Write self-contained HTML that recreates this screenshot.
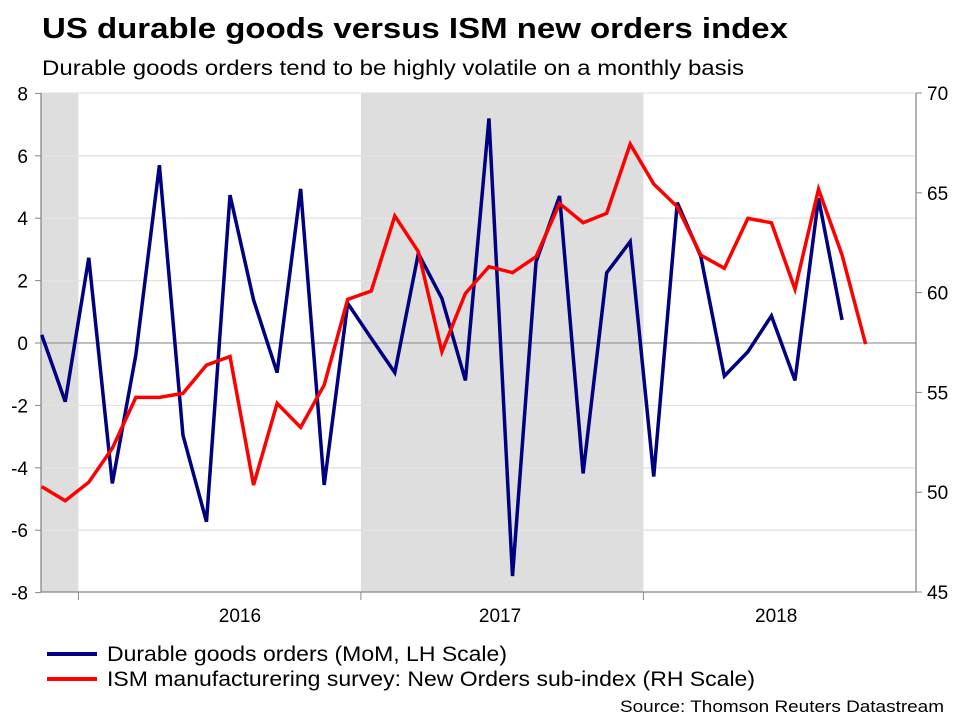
<!DOCTYPE html>
<html><head><meta charset="utf-8"><style>
body{margin:0;background:#fff;}
svg{display:block;font-family:"Liberation Sans",sans-serif;}
</style></head><body>
<svg id="chart" width="960" height="720" viewBox="0 0 960 720">
<text x="42" y="38" font-size="29" font-weight="bold" textLength="746" lengthAdjust="spacingAndGlyphs">US durable goods versus ISM new orders index</text>
<text x="42" y="75" font-size="21" textLength="702" lengthAdjust="spacingAndGlyphs">Durable goods orders tend to be highly volatile on a monthly basis</text>
<g id="bands"></g>
<g id="grid"></g>
<g id="axes"></g>
<g id="series"></g>
<g>
<line x1="47" y1="654" x2="97" y2="654" stroke="#000080" stroke-width="4"/>
<text x="107" y="661" font-size="21" textLength="400" lengthAdjust="spacingAndGlyphs">Durable goods orders (MoM, LH Scale)</text>
<line x1="47" y1="679" x2="97" y2="679" stroke="#ff0000" stroke-width="4"/>
<text x="107" y="686" font-size="21" textLength="648" lengthAdjust="spacingAndGlyphs">ISM manufacturering survey: New Orders sub-index (RH Scale)</text>
</g>
<text x="944" y="712" font-size="17" text-anchor="end" textLength="324" lengthAdjust="spacingAndGlyphs">Source: Thomson Reuters Datastream</text>
</svg>
<script>
const durable = [0.26,-1.88,2.73,-4.5,-0.38,5.7,-2.95,-5.73,4.74,1.38,-0.95,4.94,-4.55,1.27,0.15,-0.95,2.87,1.43,-1.2,7.2,-7.47,2.6,4.71,-4.18,2.25,3.25,-4.28,4.5,2.77,-1.06,-0.28,0.87,-1.2,4.64,0.74];
const ism = [50.28,49.57,50.5,52.2,54.75,54.75,54.95,56.37,56.8,50.36,54.45,53.25,55.37,59.66,60.08,63.84,62.05,57.04,59.96,61.3,61.0,61.8,64.47,63.5,63.97,67.44,65.44,64.3,61.88,61.22,63.72,63.5,60.17,65.18,61.88,57.42];
const leftTicks = [8,6,4,2,0,-2,-4,-6,-8];
const rightTicks = [70,65,60,55,50,45];
const yearLabels = ["2016","2017","2018"];
const yearStartIdx = [1.56,13.56,25.56];
const yearLabelIdx = [8.42,19.47,31.2];
const bandRanges = [[-0.02,1.56],[13.56,25.56]];

const NS="http://www.w3.org/2000/svg";
const L=41,R=916,T=93,B=592;
const x0=41.7,dx=23.54;
const xs=i=>x0+dx*i;
const yl=v=>343-(v)*31.2;
const yr=v=>T+(70-v)*(B-T)/25;
function mk(tag,attrs,parent){const e=document.createElementNS(NS,tag);for(const k in attrs)e.setAttribute(k,attrs[k]);parent.appendChild(e);return e;}
const bands=document.getElementById('bands'),grid=document.getElementById('grid'),axes=document.getElementById('axes'),series=document.getElementById('series');
bandRanges.forEach(b=>{
  const a=Math.max(L,xs(b[0])),c=Math.min(R,xs(b[1]));
  const r=mk('rect',{x:a,y:T,width:c-a,height:B-T,fill:'#dedede'},bands);
  
  
});
leftTicks.forEach(v=>{
  const y=yl(v);
  if(v!==8&&v!==-8){const g=mk('line',{x1:L,x2:R,y1:y,y2:y,stroke:v===0?'#999':'#e2e2e2','stroke-width':1.3},grid);
  
  }
  mk('line',{x1:L-6,x2:L,y1:y,y2:y,stroke:'#888'},axes);
  const t=mk('text',{x:L-13,y:y+7,'font-size':19,'text-anchor':'end'},axes);
  t.textContent=v;
  
  
});
mk('line',{x1:L,x2:R,y1:T,y2:T,stroke:'#e2e2e2','stroke-width':1.3},grid);
rightTicks.forEach(v=>{
  const y=yr(v);
  mk('line',{x1:R,x2:R+6,y1:y,y2:y,stroke:'#888'},axes);
  const t=mk('text',{x:R+11,y:y+7,'font-size':19},axes);
  t.textContent=v;
  
  
});
mk('line',{x1:L,x2:L,y1:T,y2:B,stroke:'#888','stroke-width':1.3},axes);
mk('line',{x1:R,x2:R,y1:T,y2:B,stroke:'#888','stroke-width':1.3},axes);
mk('line',{x1:L,x2:R,y1:B,y2:B,stroke:'#888','stroke-width':1.3},axes);
yearLabels.forEach((lab,k)=>{
  const x=xs(yearStartIdx[k]);
  mk('line',{x1:x,x2:x,y1:B,y2:B+8,stroke:'#888'},axes);
  const t=mk('text',{x:xs(yearLabelIdx[k]),y:622,'font-size':19,'text-anchor':'middle'},axes);
  t.textContent=lab;
  
  
});
const p1=mk('polyline',{points:durable.map((v,i)=>xs(i)+','+yl(v)).join(' '),fill:'none',stroke:'#000080','stroke-width':3.5},series);


const p2=mk('polyline',{points:ism.map((v,i)=>xs(i)+','+yr(v)).join(' '),fill:'none',stroke:'#ff0000','stroke-width':3.5},series);


</script>
</body></html>
